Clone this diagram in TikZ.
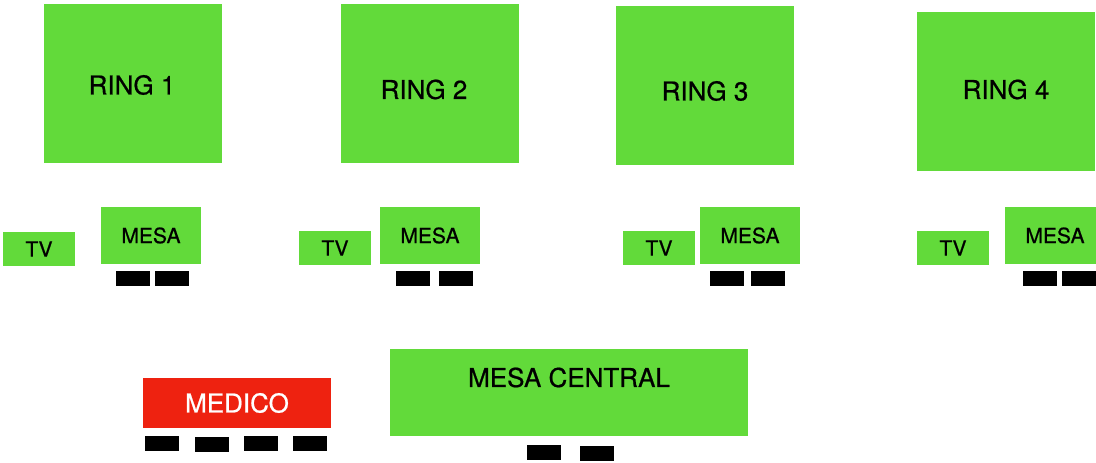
\documentclass[tikz,border=0pt]{standalone}
\usepackage{fontspec}
\setmainfont{TeX Gyre Heros}[FakeBold=0.7]
\definecolor{grn}{RGB}{98,218,58}
\definecolor{rd}{RGB}{238,34,16}
\begin{document}
\begin{tikzpicture}[x=1pt,y=-1pt,
  gbox/.style={rectangle,fill=grn,inner sep=0pt,outer sep=0pt},
  ringbox/.style={gbox,minimum width=178pt,minimum height=159pt},
  tvbox/.style={gbox,minimum width=72pt,minimum height=34pt,font=\fontsize{21}{24}\selectfont},
  mesabox/.style={gbox,minimum width=100pt,minimum height=57pt,font=\fontsize{21}{24}\selectfont},
  bar/.style={rectangle,fill=black,inner sep=0pt,minimum width=34pt,minimum height=15pt},
  ringtxt/.style={inner sep=0pt,font=\fontsize{26}{30}\selectfont},
  bigtxt/.style={inner sep=0pt,font=\fontsize{26}{30}\selectfont}]
\useasboundingbox (0,0) rectangle (1096,463);
\clip (0,0) rectangle (1096,463);
% rings
\node[ringbox] (r1) at (133,83.5) {};
\node[ringbox] (r2) at (430,83.5) {};
\node[ringbox] (r3) at (705,85.5) {};
\node[ringbox] (r4) at (1006,91.5) {};
\node[ringtxt] (t1) at (132,85) {RING 1};
\node[ringtxt] (t2) at (424,89.5) {RING 2};
\node[ringtxt] (t3) at (705,91) {RING 3};
\node[ringtxt] (t4) at (1006,89.5) {RING 4};
% tv
\node[tvbox] (tv1) at (39,249) {TV};
\node[tvbox] (tv2) at (335,248) {TV};
\node[tvbox] (tv3) at (659,248) {TV};
\node[tvbox] (tv4) at (953,248) {TV};
% mesa
\node[mesabox] (m1) at (151,235.5) {MESA};
\node[mesabox] (m2) at (430,235.5) {MESA};
\node[mesabox] (m3) at (750,235.5) {MESA};
\node[mesabox] (m4) at (1055,235.5) {MESA};
% bars
\node[bar] (b11) at (133,278.5) {};
\node[bar] (b12) at (172,278.5) {};
\node[bar] (b21) at (413,278.5) {};
\node[bar] (b22) at (456,278.5) {};
\node[bar] (b31) at (727,278.5) {};
\node[bar] (b32) at (768,278.5) {};
\node[bar] (b41) at (1040,278.5) {};
\node[bar] (b42) at (1079,278.5) {};
% medico
\node[rectangle,fill=rd,inner sep=0pt,minimum width=188pt,minimum height=50pt,text=white,font=\fontsize{26}{30}\selectfont] (med) at (237,403) {MEDICO};
\node[bar] (mb1) at (162,443.5) {};
\node[bar] (mb2) at (212,444.5) {};
\node[bar] (mb3) at (261,443.5) {};
\node[bar] (mb4) at (310,443.5) {};
% mesa central
\node[gbox,minimum width=358pt,minimum height=87pt] (mc) at (569,392.5) {};
\node[bigtxt] (mct) at (569,377.5) {MESA CENTRAL};
\node[bar] (cb1) at (544,452.5) {};
\node[bar] (cb2) at (597,453.5) {};
\end{tikzpicture}
\end{document}
